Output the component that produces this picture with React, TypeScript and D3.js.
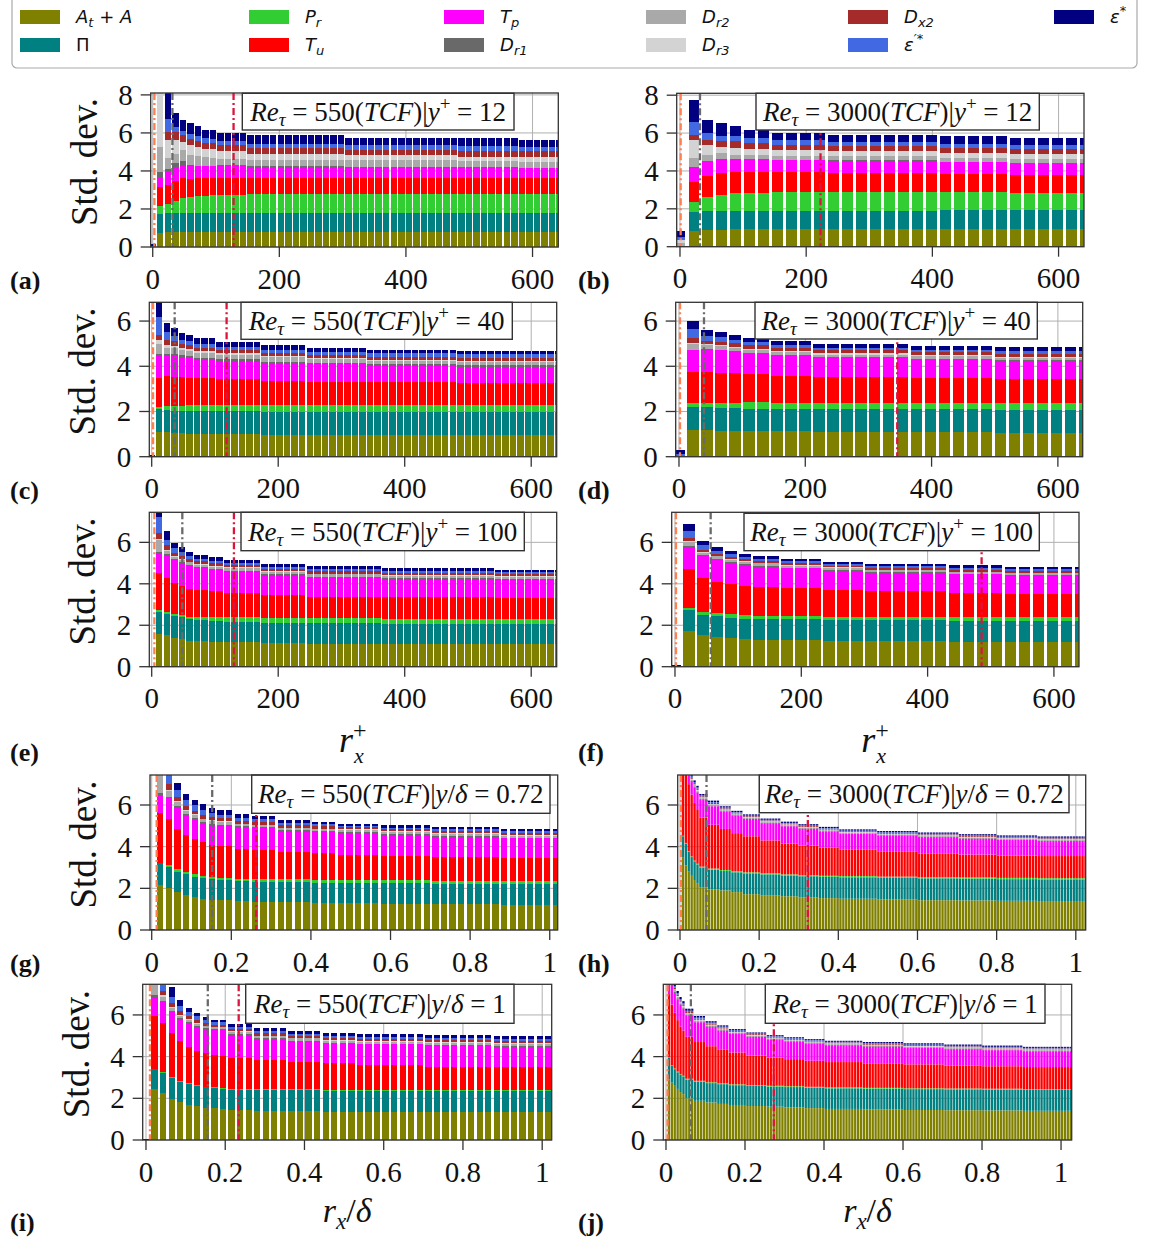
import React from 'react';
import * as d3 from 'd3';

// ---------- series definitions ----------
const KEYS = ['AtA', 'Pi', 'Pr', 'Tu', 'Tp', 'Dr1', 'Dr2', 'Dr3', 'Dx2', 'epsp', 'eps'];
const COLORS = ['#808000', '#008080', '#32cd32', '#ff0000', '#ff00ff', '#696969', '#a9a9a9', '#d3d3d3', '#a52a2a', '#4169e1', '#000080'];
const LEGEND_LABELS = [
  { m: 'A', sub: 't', rest: ' + A' }, { m: 'Π', upright: true }, { m: 'P', sub: 'r' }, { m: 'T', sub: 'u' },
  { m: 'T', sub: 'p' }, { m: 'D', sub: 'r1' }, { m: 'D', sub: 'r2' }, { m: 'D', sub: 'r3' },
  { m: 'D', sub: 'x2' }, { m: 'ε', sup: '′*' }, { m: 'ε', sup: '*' },
];

// r_x grid spacing (bar positions are i * dx)
const DX_550_PLUS = 11.9;
const DX_3000_PLUS = 22.16;
const DX_550_DELTA = 0.0216;
const DX_3000_DELTA = 0.00737;

// reference vertical lines (orange, gray, red) for panels a..j
const refOrange = [2.6, 1.1, 2.1, 1.6, 4.2, 1.6, 0.0125, 0.0025, 0.010, 0.004];
const refGray = [31.1, 31.7, 36.3, 39.6, 48.4, 56.5, 0.152, 0.067, 0.156, 0.063];
const refRed = [127.7, 222.7, 118.4, 345.6, 130, 485.5, 0.2625, 0.323, 0.234, 0.273];

// ---------- data: run counts (number of consecutive bars) + values per series ----------
// order of rows: A_t+A, Pi, P_r, T_u, T_p, D_r1, D_r2, D_r3, D_x2, eps'*, eps*
const countsA = [1, 1, 1, 1, 1, 1, 1, 1, 1, 4, 13, 15, 8, 6];
const seriesA = [
  [0, 0.75, 0.77, 0.78, 0.79, 0.79, 0.79, 0.79, 0.79, 0.79, 0.79, 0.79, 0.79, 0.79],
  [0, 1.0, 1.0, 1.0, 1.0, 1.0, 1.0, 1.0, 1.0, 1.0, 1.0, 1.0, 1.0, 1.0],
  [0, 0.4, 0.5, 0.62, 0.8, 0.83, 0.87, 0.9, 0.92, 0.96, 0.98, 0.98, 0.98, 0.98],
  [0, 1.0, 0.97, 1.05, 1.05, 0.98, 0.95, 0.93, 0.92, 0.9, 0.87, 0.86, 0.86, 0.86],
  [0, 0.5, 0.7, 0.68, 0.66, 0.64, 0.63, 0.62, 0.62, 0.62, 0.58, 0.56, 0.53, 0.51],
  [0, 0.3, 0.15, 0.3, 0.2, 0.05, 0.04, 0.03, 0.03, 0.03, 0.03, 0.03, 0.03, 0.03],
  [0.02, 1.3, 0.6, 0.45, 0.6, 0.55, 0.5, 0.45, 0.42, 0.33, 0.33, 0.33, 0.31, 0.3],
  [0, 4.0, 0.95, 0.75, 0.42, 0.5, 0.48, 0.45, 0.43, 0.4, 0.33, 0.29, 0.26, 0.25],
  [0, 0.5, 0.4, 0.4, 0.35, 0.35, 0.33, 0.32, 0.32, 0.31, 0.28, 0.27, 0.3, 0.33],
  [0.05, 0.7, 0.7, 0.26, 0.23, 0.23, 0.23, 0.23, 0.23, 0.23, 0.24, 0.25, 0.23, 0.21],
  [0.1, 1.0, 1.5, 0.74, 0.58, 0.6, 0.52, 0.46, 0.45, 0.45, 0.45, 0.38, 0.45, 0.35],
];

const countsB = [1, 1, 1, 1, 1, 2, 4, 8, 5, 6];
const seriesB = [
  [0, 0.83, 0.88, 0.9, 0.92, 0.92, 0.92, 0.92, 0.92, 0.92],
  [0, 1.02, 1.0, 0.98, 0.98, 0.98, 0.98, 0.98, 1.0, 1.0],
  [0, 0.51, 0.76, 0.84, 0.91, 0.95, 0.98, 1.0, 0.95, 0.92],
  [0, 1.05, 1.09, 1.15, 1.14, 1.1, 1.05, 1.0, 0.96, 0.93],
  [0, 0.76, 0.75, 0.73, 0.65, 0.64, 0.63, 0.63, 0.62, 0.61],
  [0, 0.02, 0.02, 0.03, 0.04, 0.04, 0.04, 0.04, 0.04, 0.04],
  [0.2, 0.5, 0.32, 0.3, 0.22, 0.22, 0.21, 0.21, 0.2, 0.19],
  [0.17, 0.95, 0.56, 0.35, 0.35, 0.32, 0.3, 0.28, 0.27, 0.27],
  [0, 0.27, 0.26, 0.3, 0.35, 0.3, 0.27, 0.25, 0.26, 0.26],
  [0.15, 0.65, 0.36, 0.28, 0.27, 0.25, 0.23, 0.21, 0.21, 0.21],
  [0.32, 1.19, 0.7, 0.65, 0.53, 0.45, 0.42, 0.4, 0.4, 0.39],
];

const countsC = [1, 1, 1, 1, 1, 1, 3, 6, 6, 8, 12, 14];
const seriesC = [
  [0, 1.1, 1.08, 1.05, 1.03, 1.02, 1.01, 1.0, 0.98, 0.97, 0.97, 0.97],
  [0, 1.0, 0.99, 0.98, 0.99, 1.0, 1.0, 1.0, 1.0, 1.0, 1.0, 1.0],
  [0, 0.1, 0.18, 0.22, 0.24, 0.25, 0.26, 0.28, 0.3, 0.32, 0.31, 0.31],
  [0, 1.3, 1.32, 1.28, 1.25, 1.23, 1.2, 1.14, 1.08, 1.03, 1.01, 1.0],
  [0, 1.0, 0.93, 0.97, 0.92, 0.9, 0.86, 0.83, 0.8, 0.76, 0.73, 0.71],
  [0, 0.05, 0.04, 0.05, 0.05, 0.05, 0.05, 0.05, 0.05, 0.05, 0.06, 0.07],
  [0, 0.42, 0.29, 0.25, 0.23, 0.22, 0.21, 0.2, 0.18, 0.17, 0.14, 0.12],
  [0, 0.18, 0.12, 0.1, 0.09, 0.08, 0.08, 0.07, 0.06, 0.06, 0.05, 0.04],
  [0, 0.25, 0.2, 0.2, 0.18, 0.18, 0.15, 0.13, 0.14, 0.14, 0.15, 0.16],
  [0.03, 0.8, 0.35, 0.25, 0.2, 0.17, 0.16, 0.15, 0.15, 0.15, 0.15, 0.15],
  [0.04, 0.9, 0.43, 0.35, 0.3, 0.3, 0.27, 0.22, 0.2, 0.18, 0.17, 0.15],
];

const countsD = [1, 1, 1, 1, 1, 2, 3, 7, 6, 7];
const seriesD = [
  [0, 1.18, 1.17, 1.15, 1.14, 1.13, 1.12, 1.1, 1.08, 1.05],
  [0, 1.02, 1.01, 1.01, 1.0, 1.0, 1.0, 1.0, 1.01, 1.02],
  [0, 0.18, 0.19, 0.21, 0.25, 0.27, 0.27, 0.27, 0.28, 0.3],
  [0, 1.35, 1.36, 1.33, 1.3, 1.25, 1.2, 1.15, 1.1, 1.05],
  [0, 0.97, 1.0, 1.0, 0.95, 0.9, 0.87, 0.83, 0.82, 0.81],
  [0, 0.02, 0.03, 0.04, 0.04, 0.05, 0.05, 0.05, 0.05, 0.05],
  [0.02, 0.27, 0.17, 0.15, 0.14, 0.13, 0.13, 0.12, 0.11, 0.1],
  [0, 0.06, 0.05, 0.05, 0.05, 0.05, 0.05, 0.05, 0.04, 0.04],
  [0, 0.22, 0.15, 0.15, 0.14, 0.14, 0.13, 0.13, 0.13, 0.13],
  [0.1, 0.36, 0.22, 0.2, 0.16, 0.15, 0.14, 0.12, 0.12, 0.12],
  [0.18, 0.37, 0.25, 0.21, 0.2, 0.18, 0.17, 0.16, 0.17, 0.18],
];

const countsE = [1, 1, 1, 1, 1, 1, 2, 2, 5, 6, 10, 15, 9];
const seriesE = [
  [0, 1.6, 1.52, 1.4, 1.33, 1.25, 1.22, 1.2, 1.17, 1.13, 1.1, 1.09, 1.08],
  [0, 1.05, 1.0, 1.05, 1.05, 1.05, 1.03, 1.0, 1.0, 1.0, 1.0, 0.98, 0.97],
  [0, 0.1, 0.13, 0.1, 0.1, 0.12, 0.15, 0.18, 0.21, 0.23, 0.25, 0.25, 0.25],
  [0, 1.77, 1.65, 1.47, 1.4, 1.35, 1.3, 1.25, 1.2, 1.1, 1.03, 1.02, 1.0],
  [0, 0.93, 1.05, 1.13, 1.12, 1.1, 1.07, 1.04, 1.0, 0.97, 0.92, 0.91, 0.9],
  [0, 0.1, 0.08, 0.06, 0.06, 0.06, 0.06, 0.06, 0.06, 0.05, 0.05, 0.05, 0.05],
  [0, 0.55, 0.17, 0.1, 0.1, 0.1, 0.1, 0.1, 0.12, 0.11, 0.1, 0.09, 0.08],
  [0, 0.05, 0.05, 0.04, 0.04, 0.04, 0.04, 0.04, 0.04, 0.03, 0.03, 0.03, 0.03],
  [0, 0.3, 0.22, 0.15, 0.14, 0.13, 0.12, 0.12, 0.11, 0.11, 0.12, 0.1, 0.09],
  [0, 0.75, 0.25, 0.25, 0.2, 0.15, 0.13, 0.12, 0.1, 0.1, 0.12, 0.11, 0.1],
  [0.03, 0.5, 0.45, 0.23, 0.22, 0.2, 0.18, 0.16, 0.15, 0.14, 0.13, 0.13, 0.12],
];

const countsF = [1, 1, 1, 1, 1, 1, 2, 3, 3, 6, 4, 6];
const seriesF = [
  [0, 1.7, 1.53, 1.43, 1.38, 1.32, 1.3, 1.27, 1.23, 1.22, 1.2, 1.18],
  [0, 1.03, 0.97, 1.02, 0.97, 1.0, 1.0, 1.02, 1.02, 1.02, 1.02, 1.02],
  [0, 0.09, 0.13, 0.13, 0.17, 0.17, 0.17, 0.17, 0.17, 0.17, 0.18, 0.18],
  [0.03, 1.88, 1.65, 1.5, 1.48, 1.42, 1.38, 1.33, 1.28, 1.22, 1.16, 1.12],
  [0, 1.05, 1.05, 1.07, 1.0, 1.0, 0.98, 0.95, 0.92, 0.9, 0.89, 0.88],
  [0, 0.05, 0.05, 0.05, 0.05, 0.05, 0.04, 0.04, 0.04, 0.04, 0.04, 0.04],
  [0, 0.2, 0.13, 0.12, 0.12, 0.11, 0.11, 0.1, 0.1, 0.09, 0.08, 0.08],
  [0, 0.05, 0.04, 0.03, 0.03, 0.03, 0.03, 0.03, 0.03, 0.02, 0.02, 0.02],
  [0, 0.15, 0.1, 0.1, 0.1, 0.1, 0.09, 0.09, 0.08, 0.09, 0.1, 0.1],
  [0, 0.35, 0.2, 0.15, 0.12, 0.1, 0.1, 0.09, 0.08, 0.08, 0.08, 0.08],
  [0.05, 0.35, 0.2, 0.17, 0.15, 0.15, 0.13, 0.12, 0.1, 0.11, 0.12, 0.12],
];

const countsG = [1, 1, 1, 1, 1, 1, 1, 1, 2, 2, 3, 4, 3, 5, 6, 8, 7];
const seriesG = [
  [0, 2.16, 2.03, 1.84, 1.68, 1.57, 1.47, 1.44, 1.42, 1.38, 1.36, 1.33, 1.3, 1.28, 1.26, 1.23, 1.2],
  [0, 1.04, 1.01, 0.96, 1.01, 0.99, 1.01, 0.99, 0.98, 0.97, 0.96, 0.96, 0.96, 0.96, 0.98, 1.0, 1.01],
  [0, 0.03, 0.08, 0.11, 0.1, 0.11, 0.11, 0.11, 0.12, 0.12, 0.13, 0.14, 0.15, 0.16, 0.15, 0.14, 0.14],
  [0, 2.37, 2.19, 1.94, 1.77, 1.7, 1.65, 1.56, 1.5, 1.44, 1.39, 1.32, 1.28, 1.22, 1.17, 1.12, 1.09],
  [0, 0.88, 1.01, 1.07, 0.96, 0.94, 0.88, 0.95, 1.0, 1.02, 1.05, 1.0, 1.0, 1.05, 1.02, 0.99, 0.96],
  [0, 0.1, 0.05, 0.04, 0.05, 0.05, 0.05, 0.04, 0.04, 0.04, 0.04, 0.04, 0.04, 0.04, 0.04, 0.04, 0.04],
  [0, 1.2, 0.31, 0.2, 0.15, 0.15, 0.14, 0.13, 0.12, 0.11, 0.1, 0.1, 0.1, 0.09, 0.09, 0.09, 0.09],
  [0, 0.3, 0.05, 0.04, 0.05, 0.04, 0.04, 0.04, 0.04, 0.03, 0.03, 0.03, 0.03, 0.03, 0.03, 0.03, 0.03],
  [0, 0.3, 0.3, 0.2, 0.18, 0.17, 0.16, 0.15, 0.14, 0.13, 0.12, 0.12, 0.11, 0.1, 0.1, 0.11, 0.11],
  [0, 0.5, 0.45, 0.32, 0.3, 0.27, 0.25, 0.2, 0.18, 0.16, 0.13, 0.11, 0.1, 0.08, 0.08, 0.08, 0.08],
  [0.03, 0.5, 0.3, 0.35, 0.3, 0.25, 0.29, 0.24, 0.22, 0.18, 0.14, 0.12, 0.11, 0.1, 0.1, 0.1, 0.1],
];

const countsH = [1, 1, 1, 1, 1, 1, 1, 3, 4, 4, 4, 6, 7, 6, 7, 7, 13, 14, 14, 13, 14, 17];
const seriesH = [
  [0, 3.5, 3.1, 2.8, 2.6, 2.4, 2.25, 2.05, 1.95, 1.9, 1.82, 1.72, 1.65, 1.62, 1.57, 1.53, 1.5, 1.46, 1.43, 1.42, 1.4, 1.39],
  [0, 1.0, 1.05, 0.95, 0.9, 0.9, 0.9, 0.95, 0.95, 0.93, 0.95, 1.0, 1.02, 1.0, 1.01, 1.02, 1.03, 1.04, 1.05, 1.04, 1.04, 1.04],
  [0, 0.02, 0.03, 0.03, 0.03, 0.03, 0.03, 0.04, 0.05, 0.05, 0.05, 0.05, 0.05, 0.05, 0.05, 0.05, 0.06, 0.06, 0.06, 0.06, 0.06, 0.06],
  [0, 4.48, 3.32, 3.22, 2.97, 2.77, 2.62, 2.36, 2.1, 1.97, 1.83, 1.73, 1.58, 1.48, 1.42, 1.35, 1.26, 1.19, 1.14, 1.1, 1.08, 1.06],
  [0, 0.5, 1.0, 0.4, 0.6, 0.75, 0.8, 0.85, 0.89, 0.83, 0.84, 0.83, 0.83, 0.83, 0.81, 0.78, 0.76, 0.78, 0.78, 0.76, 0.74, 0.72],
  [0, 0.1, 0.08, 0.05, 0.05, 0.04, 0.04, 0.04, 0.04, 0.04, 0.03, 0.03, 0.03, 0.03, 0.03, 0.03, 0.03, 0.03, 0.03, 0.03, 0.03, 0.03],
  [0, 0.3, 0.2, 0.1, 0.08, 0.07, 0.06, 0.06, 0.05, 0.05, 0.05, 0.04, 0.04, 0.04, 0.04, 0.04, 0.04, 0.04, 0.04, 0.04, 0.04, 0.04],
  [0, 0.1, 0.05, 0.03, 0.03, 0.03, 0.03, 0.02, 0.02, 0.02, 0.02, 0.02, 0.02, 0.02, 0.02, 0.02, 0.02, 0.02, 0.02, 0.02, 0.02, 0.02],
  [0, 0.2, 0.15, 0.08, 0.07, 0.06, 0.06, 0.05, 0.05, 0.05, 0.04, 0.04, 0.04, 0.04, 0.04, 0.04, 0.04, 0.04, 0.04, 0.04, 0.04, 0.04],
  [0, 0.2, 0.15, 0.08, 0.07, 0.05, 0.05, 0.04, 0.04, 0.04, 0.03, 0.03, 0.03, 0.03, 0.03, 0.03, 0.03, 0.03, 0.03, 0.03, 0.03, 0.03],
  [0.03, 0.2, 0.15, 0.1, 0.1, 0.08, 0.08, 0.07, 0.07, 0.06, 0.06, 0.06, 0.06, 0.06, 0.06, 0.06, 0.06, 0.06, 0.06, 0.06, 0.06, 0.06],
];

const countsI = [1, 1, 1, 1, 1, 1, 1, 1, 1, 1, 3, 4, 4, 4, 8, 8, 7];
const seriesI = [
  [0, 2.43, 2.24, 1.95, 1.81, 1.68, 1.63, 1.52, 1.52, 1.47, 1.44, 1.41, 1.38, 1.34, 1.34, 1.33, 1.33],
  [0, 0.96, 0.99, 1.01, 0.99, 1.01, 0.96, 1.01, 0.99, 0.98, 0.98, 0.99, 1.0, 1.01, 1.01, 1.02, 1.02],
  [0, 0.01, 0.03, 0.04, 0.05, 0.03, 0.03, 0.03, 0.05, 0.05, 0.04, 0.04, 0.05, 0.05, 0.04, 0.03, 0.03],
  [0, 2.55, 2.34, 2.12, 1.9, 1.76, 1.65, 1.6, 1.52, 1.53, 1.47, 1.4, 1.33, 1.28, 1.2, 1.14, 1.11],
  [0, 0.9, 1.04, 1.04, 1.04, 1.15, 1.17, 1.15, 1.2, 1.25, 1.12, 1.0, 0.98, 0.96, 1.0, 1.0, 0.99],
  [0, 0.1, 0.05, 0.04, 0.04, 0.04, 0.04, 0.04, 0.04, 0.04, 0.04, 0.04, 0.03, 0.03, 0.03, 0.03, 0.03],
  [0, 0.6, 0.16, 0.12, 0.12, 0.1, 0.1, 0.1, 0.09, 0.09, 0.1, 0.1, 0.1, 0.1, 0.1, 0.1, 0.1],
  [0, 0.2, 0.1, 0.05, 0.05, 0.04, 0.04, 0.03, 0.03, 0.03, 0.03, 0.03, 0.03, 0.03, 0.03, 0.03, 0.03],
  [0, 0.3, 0.2, 0.19, 0.17, 0.14, 0.13, 0.12, 0.1, 0.1, 0.11, 0.11, 0.1, 0.1, 0.11, 0.11, 0.11],
  [0, 0.4, 0.35, 0.32, 0.25, 0.2, 0.18, 0.16, 0.12, 0.1, 0.1, 0.1, 0.1, 0.1, 0.1, 0.1, 0.1],
  [0.03, 0.5, 0.3, 0.48, 0.3, 0.17, 0.18, 0.16, 0.1, 0.1, 0.15, 0.15, 0.14, 0.12, 0.14, 0.14, 0.14],
];

const countsJ = [1, 1, 1, 1, 1, 1, 1, 3, 4, 4, 4, 6, 7, 6, 7, 7, 13, 14, 14, 13, 14, 17];
const seriesJ = [
  [0, 2.9, 2.75, 2.6, 2.45, 2.3, 2.2, 2.0, 1.88, 1.8, 1.73, 1.68, 1.63, 1.6, 1.57, 1.53, 1.49, 1.46, 1.44, 1.43, 1.42, 1.4],
  [0, 1.05, 0.8, 0.8, 0.8, 0.82, 0.85, 0.9, 0.92, 0.93, 0.95, 0.95, 0.96, 0.96, 0.97, 0.98, 0.99, 1.0, 1.0, 1.0, 1.0, 1.0],
  [0, 0.02, 0.03, 0.03, 0.03, 0.03, 0.03, 0.04, 0.04, 0.04, 0.04, 0.04, 0.04, 0.04, 0.04, 0.04, 0.04, 0.04, 0.04, 0.04, 0.04, 0.04],
  [0, 3.03, 2.92, 2.67, 2.47, 2.3, 2.17, 2.01, 1.86, 1.73, 1.63, 1.53, 1.42, 1.35, 1.3, 1.25, 1.22, 1.18, 1.15, 1.11, 1.08, 1.06],
  [0, 1.5, 1.0, 0.95, 1.0, 1.05, 1.05, 1.0, 0.95, 0.92, 0.9, 0.9, 0.9, 0.87, 0.84, 0.83, 0.81, 0.8, 0.79, 0.78, 0.77, 0.76],
  [0, 0.1, 0.08, 0.05, 0.05, 0.04, 0.04, 0.04, 0.04, 0.04, 0.03, 0.03, 0.03, 0.03, 0.03, 0.03, 0.03, 0.03, 0.03, 0.03, 0.03, 0.03],
  [0, 0.3, 0.2, 0.1, 0.08, 0.07, 0.07, 0.06, 0.05, 0.05, 0.05, 0.04, 0.04, 0.04, 0.04, 0.04, 0.04, 0.04, 0.04, 0.04, 0.04, 0.04],
  [0, 0.1, 0.05, 0.03, 0.03, 0.03, 0.03, 0.03, 0.03, 0.02, 0.02, 0.02, 0.02, 0.02, 0.02, 0.02, 0.02, 0.02, 0.02, 0.02, 0.02, 0.02],
  [0, 0.2, 0.15, 0.08, 0.07, 0.06, 0.06, 0.06, 0.05, 0.05, 0.05, 0.04, 0.04, 0.04, 0.04, 0.04, 0.04, 0.04, 0.04, 0.04, 0.04, 0.04],
  [0, 0.2, 0.15, 0.08, 0.07, 0.06, 0.06, 0.06, 0.05, 0.05, 0.04, 0.03, 0.03, 0.03, 0.03, 0.03, 0.03, 0.03, 0.03, 0.03, 0.03, 0.03],
  [0.03, 0.2, 0.15, 0.1, 0.1, 0.1, 0.1, 0.1, 0.08, 0.07, 0.06, 0.06, 0.05, 0.05, 0.05, 0.05, 0.05, 0.06, 0.06, 0.06, 0.06, 0.05],
];

const TICKS_PLUS = [0, 200, 400, 600];
const TICKS_DELTA = [0, 0.2, 0.4, 0.6, 0.8, 1];

// ---------- layout ----------
const PANELS = [
  { id: 'a', left: 150.7, right: 558.3, top: 93, bottom: 247, xDomain: [-3.2, 640.7], yMax: 8.1, yTicks: [0, 2, 4, 6, 8], xTicks: TICKS_PLUS, dx: DX_550_PLUS, wf: 0.86, counts: countsA, series: seriesA, box: [242.3, 93.3, 271.7, 36.7], re: '550', kind: 'plus', val: '12', label: '(a)', labelX: 10, labelY: 289, yLabel: true, xLabel: null },
  { id: 'b', left: 676.7, right: 1084, top: 93.3, bottom: 246.7, xDomain: [-5.2, 640.3], yMax: 8.1, yTicks: [0, 2, 4, 6, 8], xTicks: TICKS_PLUS, dx: DX_3000_PLUS, wf: 0.78, counts: countsB, series: seriesB, box: [756, 93.3, 283.3, 36.7], re: '3000', kind: 'plus', val: '12', label: '(b)', labelX: 578, labelY: 289, yLabel: false, xLabel: null },
  { id: 'c', left: 149.3, right: 556.7, top: 302.3, bottom: 456.7, xDomain: [-3.8, 640.3], yMax: 6.83, yTicks: [0, 2, 4, 6], xTicks: TICKS_PLUS, dx: DX_550_PLUS, wf: 0.86, counts: countsC, series: seriesC, box: [241, 302.3, 271.3, 37], re: '550', kind: 'plus', val: '40', label: '(c)', labelX: 10, labelY: 499, yLabel: true, xLabel: null },
  { id: 'd', left: 675.7, right: 1082.7, top: 302.3, bottom: 456.7, xDomain: [-5.2, 639.3], yMax: 6.83, yTicks: [0, 2, 4, 6], xTicks: TICKS_PLUS, dx: DX_3000_PLUS, wf: 0.8, counts: countsD, series: seriesD, box: [755, 302.3, 282.3, 36.7], re: '3000', kind: 'plus', val: '40', label: '(d)', labelX: 578, labelY: 499, yLabel: false, xLabel: null },
  { id: 'e', left: 149.3, right: 556.7, top: 512.3, bottom: 666.7, xDomain: [-3.8, 640.3], yMax: 7.45, yTicks: [0, 2, 4, 6], xTicks: TICKS_PLUS, dx: DX_550_PLUS, wf: 0.86, counts: countsE, series: seriesE, box: [241, 512.3, 283.3, 38.4], re: '550', kind: 'plus', val: '100', label: '(e)', labelX: 10, labelY: 761, yLabel: true, xLabel: 'plus' },
  { id: 'f', left: 671.7, right: 1079, top: 512.3, bottom: 666.7, xDomain: [-5.2, 639.7], yMax: 7.45, yTicks: [0, 2, 4, 6], xTicks: TICKS_PLUS, dx: DX_3000_PLUS, wf: 0.8, counts: countsF, series: seriesF, box: [744, 513.3, 295.3, 37.4], re: '3000', kind: 'plus', val: '100', label: '(f)', labelX: 578, labelY: 761, yLabel: false, xLabel: 'plus' },
  { id: 'g', left: 150, right: 557.7, top: 775, bottom: 930, xDomain: [-0.0043, 1.02], yMax: 7.44, yTicks: [0, 2, 4, 6], xTicks: TICKS_DELTA, dx: DX_550_DELTA, wf: 0.73, counts: countsG, series: seriesG, box: [251.7, 775, 298.3, 38.3], re: '550', kind: 'delta', val: '0.72', label: '(g)', labelX: 10, labelY: 972, yLabel: true, xLabel: null },
  { id: 'h', left: 677.7, right: 1085.7, top: 775, bottom: 930, xDomain: [-0.0058, 1.025], yMax: 7.44, yTicks: [0, 2, 4, 6], xTicks: TICKS_DELTA, dx: DX_3000_DELTA, wf: 0.8, counts: countsH, series: seriesH, box: [759.3, 775, 309.7, 37.7], re: '3000', kind: 'delta', val: '0.72', label: '(h)', labelX: 578, labelY: 972, yLabel: false, xLabel: null },
  { id: 'i', left: 142.7, right: 551.7, top: 984.3, bottom: 1140, xDomain: [-0.0083, 1.024], yMax: 7.47, yTicks: [0, 2, 4, 6], xTicks: TICKS_DELTA, dx: DX_550_DELTA, wf: 0.73, counts: countsI, series: seriesI, box: [245.7, 984.3, 268.3, 39], re: '550', kind: 'delta', val: '1', label: '(i)', labelX: 10, labelY: 1231, yLabel: true, xLabel: 'delta' },
  { id: 'j', left: 663.3, right: 1071.7, top: 984.3, bottom: 1140, xDomain: [-0.0068, 1.027], yMax: 7.47, yTicks: [0, 2, 4, 6], xTicks: TICKS_DELTA, dx: DX_3000_DELTA, wf: 0.8, counts: countsJ, series: seriesJ, box: [765.3, 984.3, 279.7, 39], re: '3000', kind: 'delta', val: '1', label: '(j)', labelX: 578, labelY: 1231, yLabel: false, xLabel: 'delta' },
];

const SERIF = "'Liberation Serif', 'Times New Roman', serif";
const SANS = "'DejaVu Sans', sans-serif";
const AXIS = '#333';

function expand(counts: number[], vals: number[]): number[] {
  const out: number[] = [];
  counts.forEach((c, i) => { for (let k = 0; k < c; k++) out.push(vals[i]); });
  return out;
}

function Annotation({ p }: { p: any }) {
  const [bx, by, bw, bh] = p.box;
  const cx = bx + bw / 2;
  const cy = by + bh / 2 + 9;
  return (
    <g>
      <rect x={bx} y={by} width={bw} height={bh} fill="white" stroke={AXIS} strokeWidth={1.4} />
      <text x={cx} y={cy} textAnchor="middle" fontFamily={SERIF} fontSize={27} fill="#111">
        <tspan fontStyle="italic">Re</tspan>
        <tspan fontStyle="italic" fontSize={19} dy={5}>τ</tspan>
        <tspan dy={-5}>{` = ${p.re}(`}</tspan>
        <tspan fontStyle="italic">TCF</tspan>
        <tspan>{')|'}</tspan>
        <tspan fontStyle="italic">y</tspan>
        {p.kind === 'plus' ? (
          <>
            <tspan fontSize={19} dy={-11}>+</tspan>
            <tspan dy={11}>{` = ${p.val}`}</tspan>
          </>
        ) : (
          <>
            <tspan>/</tspan>
            <tspan fontStyle="italic">δ</tspan>
            <tspan>{` = ${p.val}`}</tspan>
          </>
        )}
      </text>
    </g>
  );
}

function PanelView({ p, idx }: { p: any; idx: number }) {
  const xs = d3.scaleLinear().domain(p.xDomain).range([p.left, p.right]);
  const ys = d3.scaleLinear().domain([0, p.yMax]).range([p.bottom, p.top]);
  const vals = p.series.map((s: number[]) => expand(p.counts, s));
  const n = vals[0].length;
  const rows = d3.range(n).map((i) => {
    const r: any = { x: i * p.dx };
    KEYS.forEach((k, j) => { r[k] = vals[j][i]; });
    return r;
  });
  const stacked = d3.stack<any>().keys(KEYS)(rows);
  const half = (p.dx * p.wf) / 2;
  const clipId = `clip-${p.id}`;
  const fine = p.dx < 0.01;
  const refs = [
    { x: refOrange[idx], c: '#ff7f50' },
    { x: refGray[idx], c: '#696969' },
    { x: refRed[idx], c: '#dc143c' },
  ];
  const fmt = (v: number) => String(v);
  const cxPlot = (p.left + p.right) / 2;
  return (
    <g>
      <defs>
        <clipPath id={clipId}>
          <rect x={p.left} y={p.top} width={p.right - p.left} height={p.bottom - p.top} />
        </clipPath>
      </defs>
      <g stroke="#b0b0b0" strokeWidth={1}>
        {p.yTicks.map((t: number) => (
          <line key={'gy' + t} x1={p.left} x2={p.right} y1={ys(t)} y2={ys(t)} />
        ))}
        {p.xTicks.map((t: number) => (
          <line key={'gx' + t} x1={xs(t)} x2={xs(t)} y1={p.top} y2={p.bottom} />
        ))}
      </g>
      <g clipPath={`url(#${clipId})`} shapeRendering={fine ? 'auto' : 'crispEdges'}>
        {stacked.map((layer: any, j: number) => (
          <g key={KEYS[j]} fill={COLORS[j]}>
            {layer.map((d: any, i: number) => {
              if (d[1] - d[0] <= 0) return null;
              const x0 = xs(d.data.x - half);
              const x1 = xs(d.data.x + half);
              return <rect key={i} x={x0} width={x1 - x0} y={ys(d[1])} height={ys(d[0]) - ys(d[1])} />;
            })}
          </g>
        ))}
      </g>
      <g clipPath={`url(#${clipId})`}>
        {refs.map((r, k) => (
          <line key={k} x1={xs(r.x)} x2={xs(r.x)} y1={p.top} y2={p.bottom} stroke={r.c} strokeWidth={2.3} strokeDasharray="7,3,2,3" />
        ))}
      </g>
      <Annotation p={p} />
      <rect x={p.left} y={p.top} width={p.right - p.left} height={p.bottom - p.top} fill="none" stroke={AXIS} strokeWidth={1.3} />
      <g stroke={AXIS} strokeWidth={1.3}>
        {p.yTicks.map((t: number) => (
          <line key={'ty' + t} x1={p.left - 10} x2={p.left} y1={ys(t)} y2={ys(t)} />
        ))}
        {p.xTicks.map((t: number) => (
          <line key={'tx' + t} x1={xs(t)} x2={xs(t)} y1={p.bottom} y2={p.bottom + 10} />
        ))}
      </g>
      <g fontFamily={SERIF} fontSize={29} fill="#111">
        {p.yTicks.map((t: number) => (
          <text key={'ly' + t} x={p.left - 18} y={ys(t) + 10} textAnchor="end">{fmt(t)}</text>
        ))}
        {p.xTicks.map((t: number) => (
          <text key={'lx' + t} x={xs(t)} y={p.bottom + 41.5} textAnchor="middle">{fmt(t)}</text>
        ))}
      </g>
      {p.yLabel && (
        <text transform={`translate(${p.left - 54},${(p.top + p.bottom) / 2 - 8}) rotate(-90)`} textAnchor="middle" fontFamily={SERIF} fontSize={37} fill="#111">
          Std. dev.
        </text>
      )}
      {p.xLabel === 'plus' && (
        <g fontFamily={SERIF} fill="#111">
          <text x={cxPlot - 14} y={752} fontSize={36} fontStyle="italic">r</text>
          <text x={cxPlot + 1} y={763} fontSize={22} fontStyle="italic">x</text>
          <text x={cxPlot} y={738} fontSize={24}>+</text>
        </g>
      )}
      {p.xLabel === 'delta' && (
        <text x={cxPlot} y={1222} textAnchor="middle" fontFamily={SERIF} fontSize={34} fill="#111">
          <tspan fontStyle="italic">r</tspan>
          <tspan fontStyle="italic" fontSize={23} dy={7}>x</tspan>
          <tspan dy={-7}>/</tspan>
          <tspan fontStyle="italic">δ</tspan>
        </text>
      )}
      <text x={p.labelX} y={p.labelY} fontFamily={SERIF} fontWeight="bold" fontSize={26} fill="#111">{p.label}</text>
    </g>
  );
}

function Legend() {
  const swatchX = [20, 249, 444, 646, 848, 1054];
  const rowY = [17, 45];
  return (
    <g>
      <rect x={12} y={-6} width={1125} height={74} rx={5} fill="white" stroke="#aaa" strokeWidth={1.2} />
      {LEGEND_LABELS.map((lab: any, k: number) => {
        const col = Math.floor(k / 2);
        const row = k % 2;
        const sx = swatchX[col];
        const cy = rowY[row];
        return (
          <g key={k}>
            <rect x={sx} y={cy - 7} width={40} height={14} fill={COLORS[k]} />
            <text x={sx + 56} y={cy + 6} fontFamily={SANS} fontSize={18} fontStyle={lab.upright ? 'normal' : 'italic'} fill="#111">
              <tspan>{lab.m}</tspan>
              {lab.sub && <tspan fontSize={13} dy={4}>{lab.sub}</tspan>}
              {lab.rest && <tspan fontSize={18} dy={-4}>{lab.rest}</tspan>}
              {lab.sup && <tspan fontSize={13} dy={-8}>{lab.sup}</tspan>}
            </text>
          </g>
        );
      })}
    </g>
  );
}

export default function App() {
  return (
    <svg width={1153} height={1246} style={{ position: 'absolute', left: 0, top: 0, background: 'white' }}>
      <rect x={0} y={0} width={1153} height={1246} fill="white" />
      <Legend />
      {PANELS.map((p, i) => (
        <PanelView key={p.id} p={p} idx={i} />
      ))}
    </svg>
  );
}
